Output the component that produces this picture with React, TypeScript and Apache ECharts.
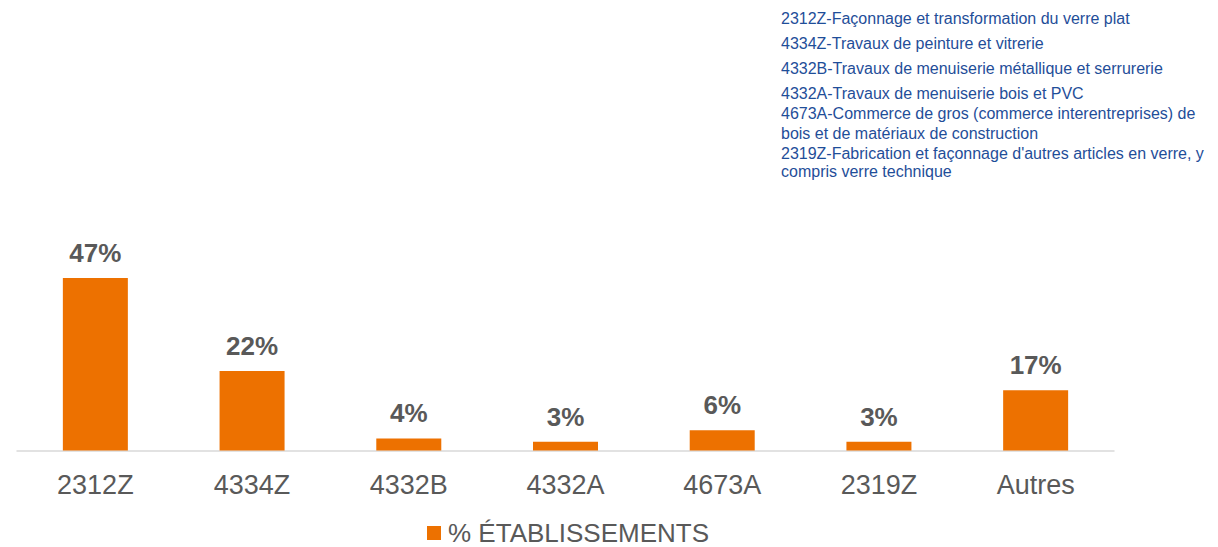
import React, { useEffect, useRef } from "react";
import * as echarts from "echarts";

const categories = ["2312Z", "4334Z", "4332B", "4332A", "4673A", "2319Z", "Autres"];
const values = [47, 21.7, 3.3, 2.4, 5.5, 2.4, 16.4];
const valueLabels = ["47%", "22%", "4%", "3%", "6%", "3%", "17%"];
const seriesName = "% ÉTABLISSEMENTS";
const noteLines = [
  "2312Z-Façonnage et transformation du verre plat",
  "4334Z-Travaux de peinture et vitrerie",
  "4332B-Travaux de menuiserie métallique et serrurerie",
  "4332A-Travaux de menuiserie bois et PVC",
  "4673A-Commerce de gros (commerce interentreprises) de",
  "bois et de matériaux de construction",
  "2319Z-Fabrication et façonnage d'autres articles en verre, y",
  "compris verre technique",
];
const noteTops = [10.2, 35.2, 60.2, 85.8, 105.8, 125.2, 145.2, 163.5];

const FONT = "'Liberation Sans', Arial, sans-serif";

export default function App() {
  const ref = useRef<HTMLDivElement>(null);
  useEffect(() => {
    if (!ref.current) return;
    const chart = echarts.init(ref.current, undefined, { renderer: "svg" });
    chart.setOption({
      animation: false,
      textStyle: { fontFamily: FONT },
      grid: { left: 17, right: 104, top: 230.4, bottom: 96.5, containLabel: false },
      legend: {
        data: [seriesName],
        left: 422,
        top: 515,
        itemWidth: 14,
        itemHeight: 14,
        icon: "rect",
        textStyle: { fontSize: 26, color: "#595959", fontFamily: FONT, padding: [0, 0, 0, 2] },
      },
      xAxis: {
        type: "category",
        data: categories,
        axisLine: { lineStyle: { color: "#d9d9d9", width: 1.5 } },
        axisTick: { show: false },
        axisLabel: { fontSize: 27, color: "#595959", margin: 21, fontFamily: FONT },
      },
      yAxis: {
        type: "value",
        min: 0,
        max: 60,
        show: false,
        splitLine: { show: false },
      },
      series: [
        {
          name: seriesName,
          type: "bar",
          data: values,
          barWidth: 65,
          itemStyle: { color: "#ED7100" },
          label: {
            show: true,
            position: "top",
            distance: 12,
            fontSize: 26,
            fontWeight: "bold",
            color: "#595959",
            fontFamily: FONT,
            formatter: (p: any) => valueLabels[p.dataIndex],
          },
        },
      ],
      graphic: noteLines.map((t, i) => ({
        type: "text",
        left: 781,
        top: noteTops[i],
        style: {
          text: t,
          fontSize: 16,
          fontFamily: FONT,
          fill: "#1F4E99",
        },
      })),
    });
    return () => chart.dispose();
  }, []);
  return (
    <div
      ref={ref}
      style={{ position: "fixed", left: 0, top: 0, width: 1218, height: 547, background: "#fff" }}
    />
  );
}
